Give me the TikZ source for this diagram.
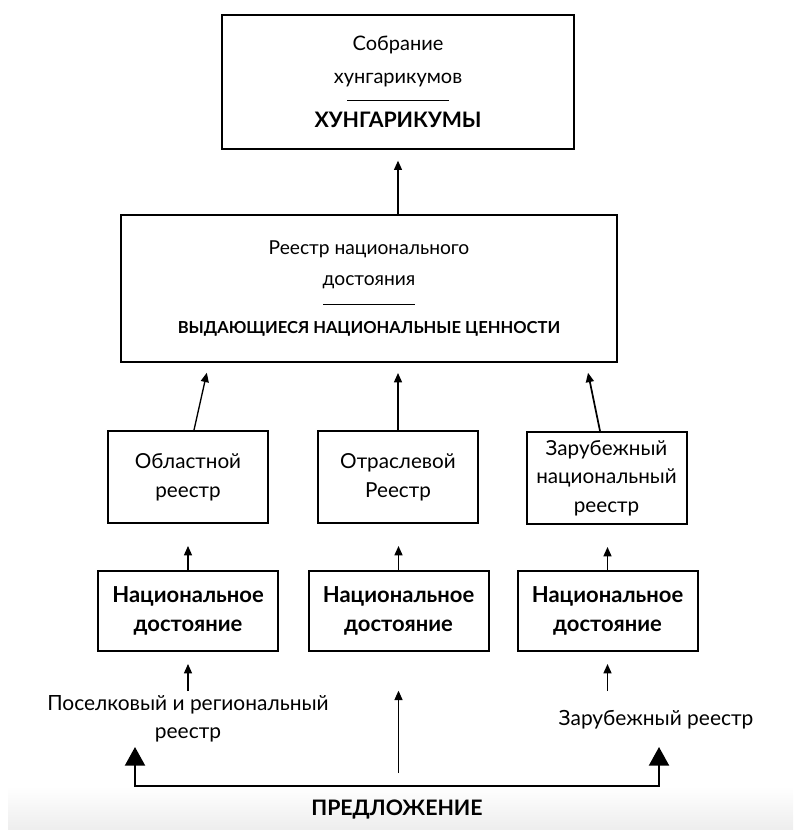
\documentclass[tikz,border=0pt]{standalone}
\usepackage{fontspec}
\setmainfont{Lato}
\usetikzlibrary{positioning, calc, arrows.meta}

\begin{document}
\begin{tikzpicture}[x=0.75pt, y=-0.75pt,
	box/.style={draw, line width=1.5pt, align=center, inner sep=0pt},
	reg/.style={box, minimum width=120pt, minimum height=69pt, font=\fontsize{15.5}{21.5}\selectfont},
	nd/.style={box, minimum width=135pt, minimum height=60pt, font=\bfseries\fontsize{16.5}{22}\selectfont},
	lbl/.style={align=center, font=\fontsize{15.7}{21}\selectfont},
	arr/.style={-{Triangle[width=6pt, length=7pt]}, line width=1pt},
	bigarr/.style={{Triangle[width=15pt, length=14pt]}-{Triangle[width=15pt, length=14pt]}, line width=1.6pt}
	]
	\useasboundingbox (0,0) rectangle (793,830);
	\shade[top color=white, bottom color=black!7] (8,786) rectangle (793,830);

	\node[box, minimum width=264pt, minimum height=100.5pt, font=\fontsize{15}{25}\selectfont] (hung) at (398,82)
		{Собрание\\хунгарикумов\\[-12.25pt]\rule{76pt}{0.9pt}\\[-4.75pt]{\bfseries\fontsize{16}{25}\selectfont ХУНГАРИКУМЫ}};
	\node[box, minimum width=372pt, minimum height=110.25pt, font=\fontsize{14.4}{23}\selectfont] (mid) at (369,288.5)
		{Реестр национального\\достояния\\[-8pt]\rule{69pt}{0.9pt}\\[-1.75pt]{\bfseries\fontsize{12.4}{23}\selectfont ВЫДАЮЩИЕСЯ НАЦИОНАЛЬНЫЕ ЦЕННОСТИ}};

	\node[reg] (regL) at (188,477) {Областной\\реестр};
	\node[reg] (regC) at (398,477) {Отраслевой\\Реестр};
	\node[reg] (regR) at (606.5,478) {Зарубежный\\национальный\\реестр};

	\node[nd] (ndL) at (188,611) {Национальное\\достояние};
	\node[nd] (ndC) at (398.5,611) {Национальное\\достояние};
	\node[nd] (ndR) at (607.5,611) {Национальное\\достояние};

	\node[lbl] (lblL) at (188,719) {Поселковый и региональный\\реестр};
	\node[lbl] (lblR) at (656,720) {Зарубежный реестр};
	\node[font=\bfseries\fontsize{16}{20}\selectfont] (offer) at (397,810) {ПРЕДЛОЖЕНИЕ};

	\draw[arr, shorten >=8pt] (mid.north -| hung.south) -- (hung.south);
	\draw[arr, shorten >=7.5pt] ($(regL.north)+(6,0)$) -- ($(mid.south)+(-160,0)$);
	\draw[arr, shorten >=7.5pt] (regC.north) -- (regC.north |- mid.south);
	\draw[arr, line width=1.3pt, shorten >=7.5pt] ($(regR.north)+(-6.5,0)$) -- ($(mid.south)+(217,0)$);

	\foreach \n in {L,C,R} {
		\draw[arr, shorten >=16.5pt] (nd\n.north) -- (nd\n.north |- reg\n.south);
	}

	\draw[arr, shorten >=9pt] (lblL.north) -- (ndL.south);
	\draw[arr, shorten >=9pt] (ndR.south |- lblL.north) -- (ndR.south);
	\coordinate (src) at (398.5,773);
	\draw[arr, shorten >=29pt] (src) -- (ndC.south);

	\coordinate (tipL) at (135,747);
	\coordinate (tipR) at (659,747);
	\draw[bigarr] (tipL) -- ++(0,39) -| (tipR);
\end{tikzpicture}
\end{document}
